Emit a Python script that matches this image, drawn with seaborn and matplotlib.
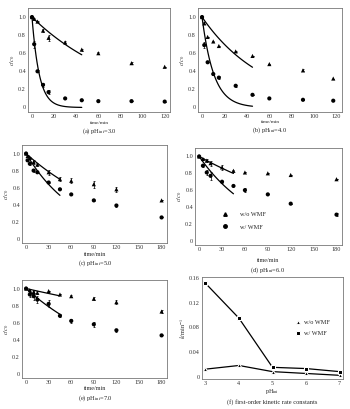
import numpy as np
import pandas as pd
import matplotlib
matplotlib.use("Agg")
import matplotlib.pyplot as plt
import seaborn as sns

sns.set_style("white")
plt.rcParams['font.family'] = ['Liberation Serif', 'DejaVu Serif']
plt.rcParams['mathtext.fontset'] = 'stix'

# ---------------- data ----------------
ph_levels = [3, 4, 5, 6, 7]
k_wo = [0.012, 0.018, 0.008, 0.005, 0.002]
k_w = [0.152, 0.095, 0.015, 0.013, 0.008]

# (a) pH 3.0
t_a = [0, 2, 5, 10, 15, 30, 45, 60, 90, 120]
a_wo = [1.0, 0.98, 0.95, 0.85, 0.77, 0.72, 0.64, 0.60, 0.49, 0.45]
a_wo_err = [0, 0.01, 0.01, 0.02, 0.03, 0.02, 0.01, 0.01, 0.01, 0.0]
a_w = [1.0, 0.70, 0.40, 0.25, 0.17, 0.10, 0.08, 0.07, 0.07, 0.065]
a_w_err = [0, 0.04, 0.01, 0.02, 0.02, 0.0, 0.0, 0.01, 0.0, 0.0]

# (b) pH 4.0
t_b = [0, 2, 5, 10, 15, 30, 45, 60, 90, 117]
b_wo = [1.0, 0.93, 0.78, 0.73, 0.68, 0.62, 0.57, 0.48, 0.41, 0.32]
b_wo_err = [0, 0.01, 0.0, 0.01, 0.0, 0.01, 0.0, 0.0, 0.01, 0.0]
b_w = [1.0, 0.69, 0.50, 0.37, 0.33, 0.24, 0.14, 0.10, 0.085, 0.075]
b_w_err = [0, 0.03, 0.0, 0.01, 0.02, 0.01, 0.0, 0.01, 0.0, 0.0]

# (c) pH 5.0
t_c = [0, 2, 5, 10, 15, 30, 45, 60, 90, 120, 180]
c_wo = [1.0, 0.97, 0.95, 0.90, 0.87, 0.78, 0.70, 0.68, 0.64, 0.58, 0.45]
c_wo_err = [0, 0.01, 0.01, 0.02, 0.02, 0.03, 0.02, 0.03, 0.04, 0.03, 0.0]
c_w = [1.0, 0.92, 0.88, 0.80, 0.78, 0.66, 0.58, 0.52, 0.45, 0.39, 0.25]
c_w_err = [0, 0.01, 0.01, 0.02, 0.01, 0.01, 0.0, 0.0, 0.01, 0.02, 0.0]

# (d) pH 6.0
t_d = [0, 5, 10, 15, 30, 45, 60, 90, 120, 180]
d_wo = [1.0, 0.97, 0.95, 0.92, 0.87, 0.83, 0.81, 0.80, 0.78, 0.73]
d_wo_err = [0, 0.01, 0.02, 0.03, 0.03, 0.01, 0.0, 0.0, 0.0, 0.0]
d_w = [1.0, 0.89, 0.81, 0.77, 0.70, 0.65, 0.60, 0.55, 0.44, 0.31]
d_w_err = [0, 0.02, 0.03, 0.05, 0.01, 0.0, 0.02, 0.0, 0.0, 0.02]

# (e) pH 7.0
t_e = [0, 5, 10, 15, 30, 45, 60, 90, 120, 180]
e_wo = [1.0, 0.98, 0.96, 0.95, 0.97, 0.93, 0.91, 0.88, 0.84, 0.73]
e_wo_err = [0, 0.02, 0.02, 0.02, 0.0, 0.0, 0.01, 0.02, 0.02, 0.02]
e_w = [1.0, 0.93, 0.91, 0.87, 0.82, 0.68, 0.62, 0.58, 0.51, 0.45]
e_w_err = [0, 0.03, 0.04, 0.04, 0.04, 0.02, 0.02, 0.03, 0.02, 0.0]

fit_end = 45

W, H = 350, 409
fig = plt.figure(figsize=(W / 100, H / 100), dpi=100)


def add_ax(x0, y0, x1, y1):
    return fig.add_axes([x0 / W, 1 - y1 / H, (x1 - x0) / W, (y1 - y0) / H])


def ftext(x, y, s, size):
    fig.text(x / W, 1 - y / H, s, ha='center', va='center', fontsize=size)


def style(ax):
    for s in ax.spines.values():
        s.set_color('#777777')
        s.set_linewidth(0.6)
    ax.tick_params(direction='in', length=2, width=0.5, labelsize=4.4, pad=1.5,
                   colors='#333333')


def kinetics(ax, t, wo, wo_err, w, w_err, kwo, kw, xmax, xticks):
    df = pd.DataFrame({'t': t * 2, 'c': wo + w,
                       'series': ['w/o WMF'] * len(t) + ['w/ WMF'] * len(t)})
    ax.errorbar(t, wo, yerr=wo_err, fmt='none', ecolor='black', elinewidth=0.5,
                capsize=1, capthick=0.5)
    ax.errorbar(t, w, yerr=w_err, fmt='none', ecolor='black', elinewidth=0.5,
                capsize=1, capthick=0.5)
    sns.scatterplot(data=df, x='t', y='c', style='series', hue='series',
                    markers={'w/o WMF': '^', 'w/ WMF': 'o'},
                    palette={'w/o WMF': 'black', 'w/ WMF': 'black'},
                    s=9, linewidth=0, ax=ax, legend=False, zorder=3)
    tf = np.linspace(0, fit_end, 60)
    fit = pd.DataFrame({'t': np.concatenate([tf, tf]),
                        'c': np.concatenate([np.exp(-kwo * tf), np.exp(-kw * tf)]),
                        'series': ['wo'] * 60 + ['w'] * 60})
    sns.lineplot(data=fit, x='t', y='c', units='series', estimator=None,
                 color='black', lw=0.9, ax=ax, legend=False)
    ax.set_xlim(-xmax * 0.03, xmax * 1.04)
    ax.set_ylim(-0.05, 1.1)
    ax.set_xticks(xticks)
    ax.set_yticks([0, 0.2, 0.4, 0.6, 0.8, 1.0])
    ax.set_yticklabels(['0', '0.2', '0.4', '0.6', '0.8', '1.0'])
    ax.set_xlabel('')
    ax.set_ylabel(r'$c/c_0$', fontsize=4.5, labelpad=1)
    style(ax)


t120 = [0, 20, 40, 60, 80, 100, 120]
t180 = [0, 30, 60, 90, 120, 150, 180]

ax_a = add_ax(28, 8, 170, 112)
kinetics(ax_a, t_a, a_wo, a_wo_err, a_w, a_w_err, k_wo[0], k_w[0], 120, t120)
ftext(99, 123, 'time/min', 3.8)
ftext(99, 131, r'(a) pH$_{\rm ini}$=3.0', 4.6)

ax_b = add_ax(198, 8, 342, 112)
kinetics(ax_b, t_b, b_wo, b_wo_err, b_w, b_w_err, k_wo[1], k_w[1], 120, t120)
ftext(270, 122, 'time/min', 3.8)
ftext(270, 130, r'(b) pH$_{\rm ini}$=4.0', 4.6)

ax_c = add_ax(22, 145, 167, 243)
kinetics(ax_c, t_c, c_wo, c_wo_err, c_w, c_w_err, k_wo[2], k_w[2], 180, t180)
ftext(95, 254, 'time/min', 4.4)
ftext(95, 263, r'(c) pH$_{\rm ini}$=5.0', 4.6)

ax_d = add_ax(195, 148, 342, 245)
kinetics(ax_d, t_d, d_wo, d_wo_err, d_w, d_w_err, k_wo[3], k_w[3], 180, t180)
ax_d.plot([], [], '^', color='black', ms=2.5, label='w/o WMF')
ax_d.plot([], [], 'o', color='black', ms=2.5, label='w/ WMF')
ax_d.legend(loc='lower left', bbox_to_anchor=(0.12, 0.1), frameon=False,
            fontsize=4.5, handletextpad=1.5, labelspacing=1.2)
ftext(268, 261, 'time/min', 4.4)
ftext(268, 270, r'(d) pH$_{\rm ini}$=6.0', 4.6)

ax_e = add_ax(22, 280, 167, 378)
kinetics(ax_e, t_e, e_wo, e_wo_err, e_w, e_w_err, k_wo[4], k_w[4], 180, t180)
ftext(95, 389, 'time/min', 4.4)
ftext(95, 398, r'(e) pH$_{\rm ini}$=7.0', 4.6)

# (f) rate constants
ax_f = add_ax(202, 277, 343, 379)
kdf = pd.DataFrame({'pH': ph_levels * 2, 'k': k_wo + k_w,
                    'series': ['w/o WMF'] * 5 + ['w/ WMF'] * 5})
sns.lineplot(data=kdf, x='pH', y='k', hue='series', style='series',
             markers={'w/o WMF': '^', 'w/ WMF': 's'}, dashes=False,
             palette={'w/o WMF': 'black', 'w/ WMF': 'black'},
             markersize=3, lw=0.9, ax=ax_f)
ax_f.set_xlim(2.9, 7.1)
ax_f.set_ylim(-0.004, 0.162)
ax_f.set_xticks(ph_levels)
ax_f.set_yticks([0, 0.04, 0.08, 0.12, 0.16])
ax_f.set_yticklabels(['0', '0.04', '0.08', '0.12', '0.16'])
ax_f.set_xlabel('')
ax_f.set_ylabel(r'$k$/min$^{-1}$', fontsize=4.5, labelpad=1)
ax_f.legend(loc='center right', bbox_to_anchor=(0.95, 0.5), frameon=False,
            fontsize=4.5, handletextpad=0.6, labelspacing=0.8, handlelength=1.0)
for h in ax_f.get_legend().legend_handles:
    h.set_linestyle('none')
style(ax_f)
ftext(272, 392, r'pH$_{\rm ini}$', 4.4)
ftext(272, 402, '(f) first-order kinetic rate constants', 4.6)

fig.savefig('out.png', dpi=100)
